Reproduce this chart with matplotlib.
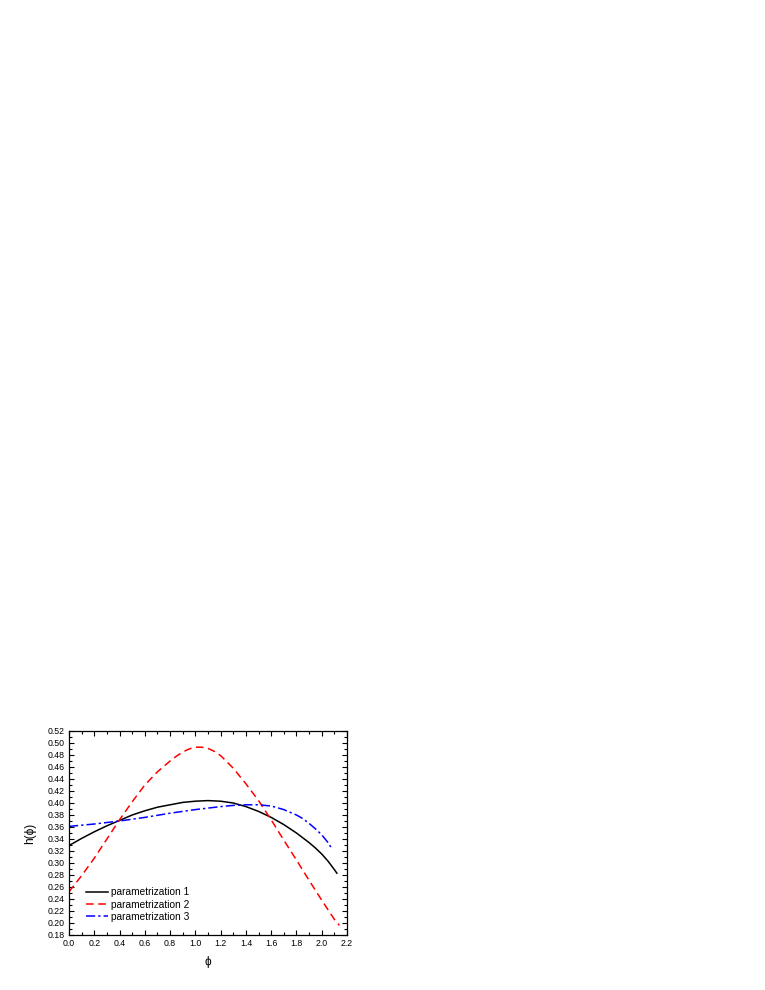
import numpy as np
from matplotlib import pyplot as plt
from matplotlib.ticker import MultipleLocator

plt.rcParams['font.family'] = ['Liberation Sans', 'DejaVu Sans']

# values
phi_1 = [0.0, 0.1, 0.2, 0.3, 0.4, 0.5, 0.6, 0.7, 0.8, 0.9, 1.0, 1.1, 1.2, 1.3, 1.4, 1.5,
         1.6, 1.7, 1.8, 1.9, 1.95, 2.0, 2.05, 2.1, 2.12]
h_1 = [0.329, 0.341, 0.352, 0.362, 0.371, 0.380, 0.387, 0.393, 0.397, 0.401, 0.403, 0.404,
       0.403, 0.400, 0.394, 0.386, 0.376, 0.364, 0.350, 0.334, 0.325, 0.315, 0.303, 0.289, 0.283]

phi_2 = [0.0, 0.1, 0.2, 0.3, 0.4, 0.5, 0.6, 0.7, 0.8, 0.85, 0.9, 0.95, 1.0, 1.05, 1.1, 1.15,
         1.2, 1.3, 1.4, 1.5, 1.6, 1.7, 1.8, 1.9, 2.0, 2.1, 2.14]
h_2 = [0.252, 0.279, 0.308, 0.340, 0.372, 0.402, 0.430, 0.452, 0.470, 0.478, 0.485, 0.490,
       0.493, 0.493, 0.491, 0.486, 0.479, 0.458, 0.432, 0.404, 0.372, 0.338, 0.305, 0.271,
       0.238, 0.206, 0.196]

phi_3 = [0.0, 0.2, 0.4, 0.6, 0.8, 1.0, 1.2, 1.3, 1.4, 1.5, 1.6, 1.7, 1.8, 1.85, 1.9,
         1.95, 2.0, 2.05, 2.08]
h_3 = [0.361, 0.365, 0.370, 0.376, 0.383, 0.389, 0.394, 0.396, 0.397, 0.397, 0.395, 0.389,
       0.380, 0.374, 0.366, 0.357, 0.347, 0.334, 0.324]

labels = ['parametrization 1', 'parametrization 2', 'parametrization 3']

fig = plt.figure(figsize=(7.65, 9.9), dpi=100)
ax = fig.add_axes([69 / 765, 1 - 935 / 990, 278 / 765, 204 / 990])

ax.plot(phi_1, h_1, color='black', lw=1.1, ls='-', label=labels[0])
ax.plot(phi_2, h_2, color='red', lw=1.1, ls=(0, (5, 3)), label=labels[1])
ax.plot(phi_3, h_3, color='blue', lw=1.1, ls=(0, (6, 2, 1.5, 2)), label=labels[2])

ax.set_xlim(0.0, 2.2)
ax.set_ylim(0.18, 0.52)
ax.xaxis.set_major_locator(MultipleLocator(0.2))
ax.xaxis.set_minor_locator(MultipleLocator(0.1))
ax.yaxis.set_major_locator(MultipleLocator(0.02))
ax.yaxis.set_minor_locator(MultipleLocator(0.01))
ax.xaxis.set_major_formatter(plt.FuncFormatter(lambda v, p: f'{v:.1f}'))
ax.yaxis.set_major_formatter(plt.FuncFormatter(lambda v, p: f'{v:.2f}'))

ax.tick_params(which='both', direction='in', top=True, right=True, width=0.8, labelsize=6.3)
ax.tick_params(which='major', length=3.5, pad=3)
ax.tick_params(which='minor', length=2)
for sp in ax.spines.values():
    sp.set_linewidth(0.9)

ax.set_xlabel('\u03d5', fontsize=8.5, labelpad=6)
ax.set_ylabel('h(\u03d5)', fontsize=8.5, labelpad=8)

ax.legend(loc='lower left', bbox_to_anchor=(0.045, 0.045), frameon=False, fontsize=7.3,
          handlelength=2.2, handletextpad=0.35, labelspacing=0.22, borderaxespad=0)

fig.savefig('out.png', dpi=100)
